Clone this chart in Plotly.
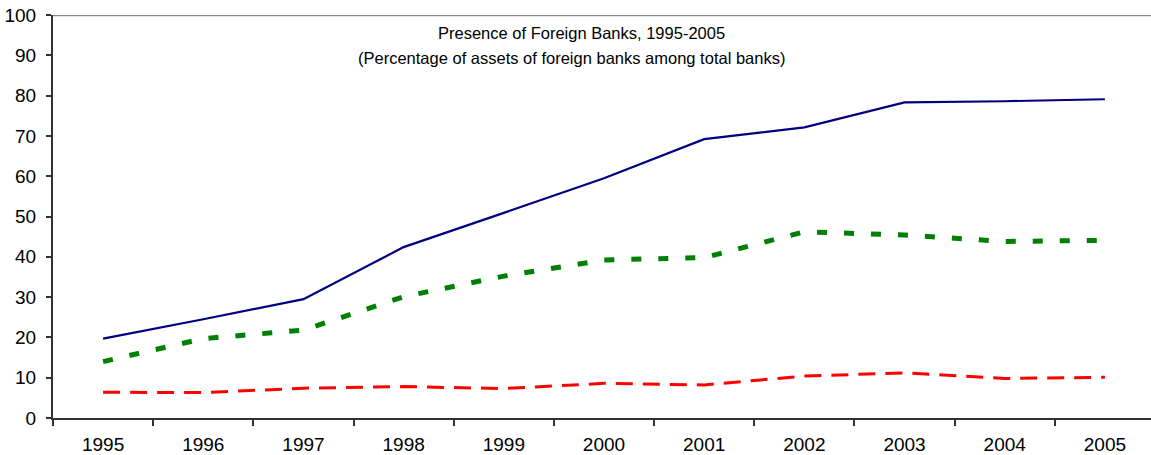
import plotly.graph_objects as go

# Share of total banking assets held by foreign banks (%)
years = ["1995", "1996", "1997", "1998", "1999", "2000",
         "2001", "2002", "2003", "2004", "2005"]
series_a = [19.7, 24.5, 29.5, 42.4, 50.9, 59.5, 69.2, 72.1, 78.3, 78.6, 79.1]
series_b = [14.0, 19.7, 21.8, 30.1, 35.2, 39.2, 39.8, 46.2, 45.4, 43.8, 44.1]
series_c = [6.4, 6.3, 7.4, 7.8, 7.3, 8.6, 8.2, 10.4, 11.2, 9.8, 10.1]
y_ticks = [0, 10, 20, 30, 40, 50, 60, 70, 80, 90, 100]

title_line1 = "Presence of Foreign Banks, 1995-2005"
title_line2 = "(Percentage of assets of foreign banks among total banks)"

FONT = "Arial, 'Liberation Sans', sans-serif"

fig = go.Figure()
fig.add_trace(go.Scatter(
    x=years, y=series_a, mode="lines", name="Series 1",
    line=dict(color="#000080", width=2.2),
))
fig.add_trace(go.Scatter(
    x=years, y=series_b, mode="lines", name="Series 2",
    line=dict(color="#008000", width=5, dash="10px,17px"),
))
fig.add_trace(go.Scatter(
    x=years, y=series_c, mode="lines", name="Series 3",
    line=dict(color="#FF0000", width=3, dash="17px,10px"),
))

# grey border along the top of the plot area
fig.add_shape(type="line", xref="paper", yref="y", x0=0, x1=1, y0=100, y1=100,
              line=dict(color="#8c8c8c", width=2.5), layer="above")

W, H = 1151, 455
L, R, T, B = 53, 0, 15, 37
pw, ph = W - L - R, H - T - B


def px_to_paper(px, py):
    return (px - L) / pw, (H - B - py) / ph


for text, cx, cy in [(title_line1, 581, 33), (title_line2, 571, 58)]:
    ax, ay = px_to_paper(cx, cy)
    fig.add_annotation(text=text, xref="paper", yref="paper", x=ax, y=ay,
                       xanchor="center", yanchor="middle", showarrow=False,
                       font=dict(family=FONT, size=16.5, color="#000000"))

fig.update_layout(
    width=W, height=H,
    margin=dict(l=L, r=R, t=T, b=B, pad=0, autoexpand=False),
    paper_bgcolor="#ffffff", plot_bgcolor="#ffffff",
    showlegend=False,
    font=dict(family=FONT, size=19, color="#000000"),
)
fig.update_xaxes(
    type="category", range=[-0.5, 10.46], automargin=False,
    tickson="boundaries", ticks="outside", ticklen=6, tickwidth=1.5,
    tickcolor="#333333",
    showline=True, linecolor="#333333", linewidth=2,
    showgrid=False, zeroline=False,
    tickfont=dict(family=FONT, size=19, color="#000000"),
    ticklabelstandoff=8,
)
fig.update_yaxes(
    range=[0, 100], tickvals=y_ticks, ticktext=[str(v) for v in y_ticks],
    automargin=False,
    ticks="outside", ticklen=5, tickwidth=1.5, tickcolor="#333333",
    showline=True, linecolor="#333333", linewidth=2,
    showgrid=False, zeroline=False,
    tickfont=dict(family=FONT, size=19, color="#000000"),
    ticklabelstandoff=6,
)

fig.write_html("out.html")
